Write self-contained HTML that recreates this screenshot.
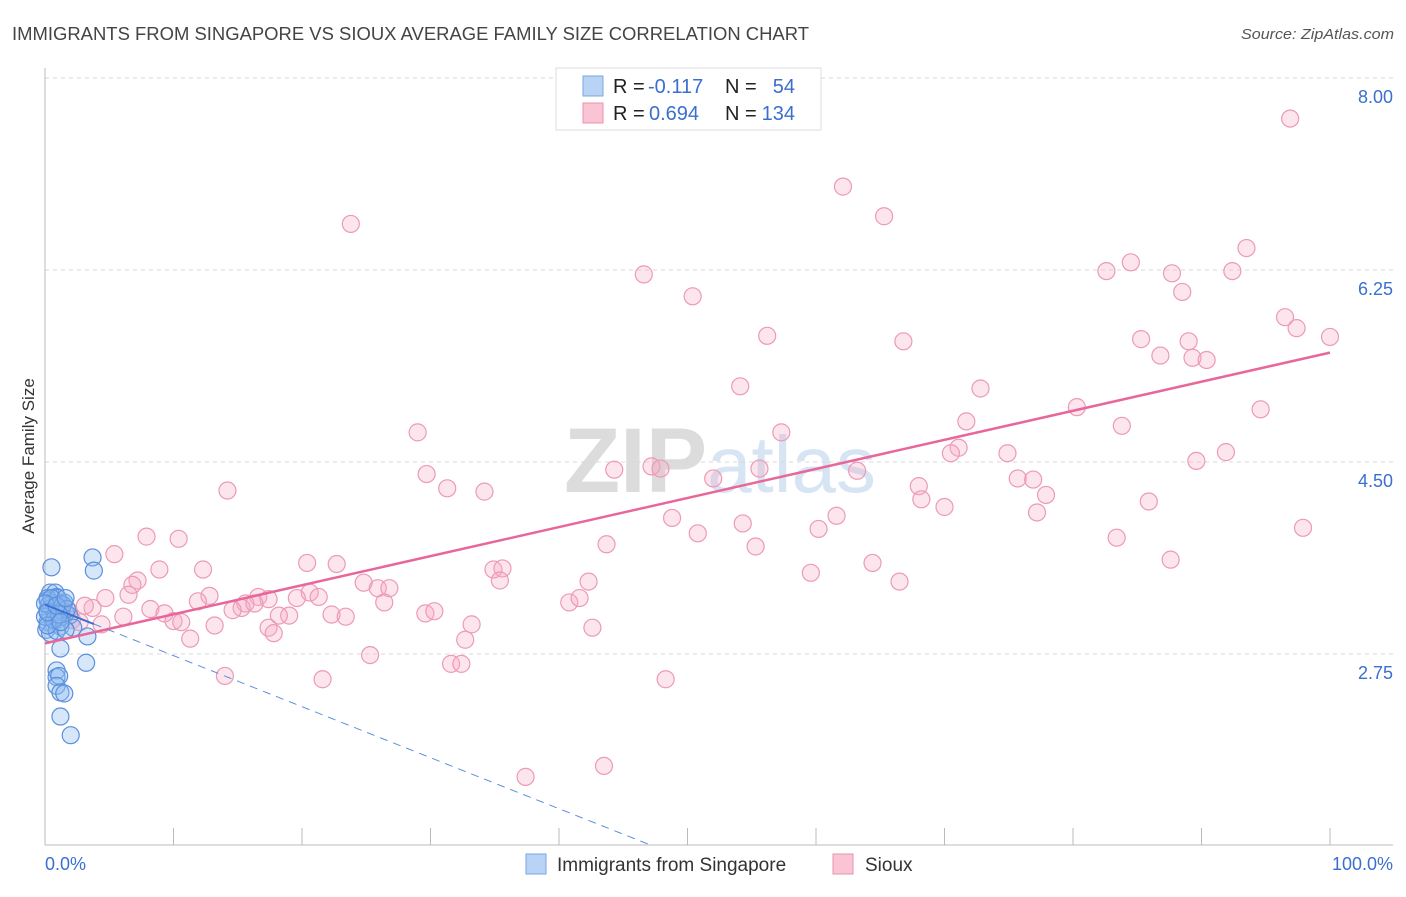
<!DOCTYPE html>
<html><head><meta charset="utf-8"><style>
body{margin:0;background:#fff;font-family:"Liberation Sans",sans-serif;}
svg text{font-family:"Liberation Sans",sans-serif;}
</style></head><body>
<svg id="chart" width="1406" height="892" viewBox="0 0 1406 892">
<text x="12" y="40" font-size="18" fill="#444" textLength="797" lengthAdjust="spacingAndGlyphs">IMMIGRANTS FROM SINGAPORE VS SIOUX AVERAGE FAMILY SIZE CORRELATION CHART</text>
<text x="1394" y="39" font-size="15" fill="#555" font-style="italic" text-anchor="end" textLength="153" lengthAdjust="spacingAndGlyphs">Source: ZipAtlas.com</text>
<text x="720" y="492" font-size="92" fill="#e4e4e4" text-anchor="middle" font-family="Liberation Serif"><tspan font-weight="bold" fill="#dcdcdc">ZIP</tspan><tspan fill="#d6e4f4" font-family="Liberation Sans" font-size="80">atlas</tspan></text>
<g id="grid"></g>
<g id="axes"></g>
<text x="34" y="456" font-size="17" fill="#333" text-anchor="middle" transform="rotate(-90 34 456)">Average Family Size</text>
<g id="marks"></g>
<g>
<rect x="556" y="68" width="265" height="62" fill="#fff" stroke="#ddd"/>
<rect x="583" y="76" width="20" height="20" fill="#b8d3f5" stroke="#7aa6e0"/>
<rect x="583" y="103" width="20" height="20" fill="#fac4d4" stroke="#ea93b0"/>
<text x="613" y="93" font-size="20" fill="#222">R =</text>
<text x="648" y="93" font-size="20" fill="#3a6fd0">-0.117</text>
<text x="725" y="93" font-size="20" fill="#222">N =</text>
<text x="795" y="93" font-size="20" fill="#3a6fd0" text-anchor="end">54</text>
<text x="613" y="120" font-size="20" fill="#222">R =</text>
<text x="649" y="120" font-size="20" fill="#3a6fd0">0.694</text>
<text x="725" y="120" font-size="20" fill="#222">N =</text>
<text x="795" y="120" font-size="20" fill="#3a6fd0" text-anchor="end">134</text>
</g>
<g>
<rect x="526" y="854" width="20" height="20" fill="#b8d3f5" stroke="#7aa6e0"/>
<text x="557" y="871" font-size="19" fill="#333">Immigrants from Singapore</text>
<rect x="833" y="854" width="20" height="20" fill="#fac4d4" stroke="#ea93b0"/>
<text x="865" y="871" font-size="19" fill="#333">Sioux</text>
</g>
</svg>
<script>
const yTicks=[2.75,4.50,6.25,8.00];
const yTickLabels=["2.75","4.50","6.25","8.00"];
const xTickLabels=["0.0%","100.0%"];
const siouxX=[96.9,62.1,65.3,23.8,93.5,84.5,82.6,87.7,92.4,46.6,50.4,88.5,96.5,97.4,100,56.2,66.8,85.3,89.0,86.8,89.3,90.4,54.1,72.8,80.3,94.6,71.7,83.8,29.0,57.3,71.1,70.5,74.9,91.9,89.6,47.2,47.9,44.3,55.6,63.2,29.7,52.0,31.3,14.2,34.2,75.7,76.9,68.0,77.9,68.2,70.0,77.2,85.9,61.6,48.8,54.3,60.2,97.9,50.8,7.9,10.4,83.4,43.7,55.3,5.4,64.4,87.6,20.4,22.7,8.9,12.3,34.9,35.6,59.6,35.4,7.2,6.8,24.8,42.3,66.5,25.9,26.8,6.5,4.7,16.6,12.8,20.6,21.3,19.6,17.4,15.6,15.3,11.9,26.4,40.8,41.6,8.2,3.7,9.3,14.6,16.3,3.1,29.6,30.3,22.3,23.4,19.0,18.2,6.1,2.1,10.0,10.6,4.4,13.2,33.2,17.4,17.8,42.6,11.3,32.7,25.3,31.6,32.4,14.0,21.6,48.3,37.4,43.5,2.7,1.2,1.8];
const siouxY=[7.63,7.01,6.74,6.67,6.45,6.32,6.24,6.22,6.24,6.21,6.01,6.05,5.82,5.72,5.64,5.65,5.60,5.62,5.60,5.47,5.45,5.43,5.19,5.17,5.00,4.98,4.87,4.83,4.77,4.77,4.63,4.58,4.58,4.59,4.51,4.46,4.44,4.43,4.44,4.42,4.39,4.35,4.26,4.24,4.23,4.35,4.34,4.28,4.20,4.16,4.09,4.04,4.14,4.01,3.99,3.94,3.89,3.90,3.85,3.82,3.80,3.81,3.75,3.73,3.66,3.58,3.61,3.58,3.57,3.52,3.52,3.52,3.53,3.49,3.42,3.42,3.38,3.40,3.41,3.41,3.35,3.35,3.29,3.26,3.27,3.28,3.31,3.27,3.26,3.25,3.21,3.17,3.23,3.22,3.22,3.26,3.16,3.17,3.12,3.15,3.21,3.19,3.12,3.14,3.11,3.09,3.10,3.10,3.09,3.06,3.05,3.04,3.02,3.01,3.02,2.99,2.94,2.99,2.89,2.88,2.74,2.66,2.66,2.55,2.52,2.52,1.63,1.73,3.04,3.19,3.15];
const singX=[0.5,3.7,3.8,0.4,0.8,0.9,0.2,0.6,1.2,0.2,1.0,1.5,0.4,0.9,1.3,1.6,0.2,0.6,1.2,0.1,0.4,0.9,1.9,2.2,1.6,3.3,1.2,0.9,0.9,1.1,0.9,1.2,1.5,1.2,2.0,3.2,0.2,0.5,0.8,0.3,1.3,0,1.0,0.5,1.4,0.7,0.2,1.7,1.1,0,0.2,0.9,1.2,1.6];
const singY=[3.54,3.63,3.51,3.31,3.31,3.27,3.24,3.21,3.21,3.15,3.17,3.22,3.11,3.08,3.09,3.12,3.04,3.02,3.00,2.97,2.94,2.96,3.10,2.99,2.97,2.91,2.80,2.60,2.54,2.55,2.46,2.40,2.39,2.18,2.01,2.67,3.26,3.17,3.13,3.20,3.15,3.09,3.26,3.26,3.20,3.06,3.01,3.16,3.11,3.21,3.13,3.19,3.04,3.26];
// reported trend for Singapore series: intercept, slope (per %)
const singTrend=[3.20,-0.0465];

const NS="http://www.w3.org/2000/svg";
const X0=45,X1=1330,YB=654;
function xs(p){return X0+(X1-X0)*p/100;}
function ys(v){return YB-(v-2.75)/1.75*192;}
function mk(tag,attrs,parent){const e=document.createElementNS(NS,tag);for(const k in attrs)e.setAttribute(k,attrs[k]);parent.appendChild(e);return e;}
const grid=document.getElementById('grid'),axes=document.getElementById('axes'),marks=document.getElementById('marks');
yTicks.forEach((t,i)=>{
  const l=mk('line',{x1:45,x2:1393,y1:ys(t),y2:ys(t),stroke:'#d8d8d8','stroke-dasharray':'4,4'},grid);
  
  
  const tx=mk('text',{x:1393,y:ys(t)+25,'font-size':18,fill:'#3a6fd0','text-anchor':'end'},axes);
  tx.textContent=yTickLabels[i];
  
  
});
let a=mk('line',{x1:45,x2:45,y1:68,y2:845,stroke:'#bbb'},axes);


a=mk('line',{x1:45,x2:1393,y1:845,y2:845,stroke:'#bbb'},axes);


for(let i=1;i<=10;i++){
  const t=mk('line',{x1:xs(i*10),x2:xs(i*10),y1:828,y2:845,stroke:'#bbb'},axes);
  
  
}
let xl=mk('text',{x:45,y:870,'font-size':18,fill:'#3a6fd0'},axes);xl.textContent=xTickLabels[0];


xl=mk('text',{x:1393,y:870,'font-size':18,fill:'#3a6fd0','text-anchor':'end'},axes);xl.textContent=xTickLabels[1];



function reg(X,Y){const n=X.length;let sx=0,sy=0,sxx=0,sxy=0;for(let i=0;i<n;i++){sx+=X[i];sy+=Y[i];sxx+=X[i]*X[i];sxy+=X[i]*Y[i];}const b=(n*sxy-sx*sy)/(n*sxx-sx*sx);return{b:b,a:(sy-b*sx)/n};}
siouxX.forEach((x,i)=>{
  const c=mk('circle',{cx:xs(x),cy:ys(siouxY[i]),r:8.5,fill:'rgba(248,170,195,0.3)',stroke:'#ec9ab5','stroke-width':1.2},marks);
  
  
});
singX.forEach((x,i)=>{
  const c=mk('circle',{cx:xs(x),cy:ys(singY[i]),r:8.5,fill:'rgba(140,185,240,0.35)',stroke:'#5a8fdc','stroke-width':1.2},marks);
  
  
});
const rp=reg(siouxX,siouxY);
let tl=mk('line',{x1:xs(0),y1:ys(rp.a),x2:xs(100),y2:ys(rp.a+100*rp.b),stroke:'#e8669a','stroke-width':2.5},marks);


const ba=singTrend[0],bb=singTrend[1];
const xmax=Math.max(...singX);
tl=mk('line',{x1:xs(0),y1:ys(ba),x2:xs(xmax),y2:ys(ba+xmax*bb),stroke:'#3a6fd0','stroke-width':2},marks);


let xend=100;
if(bb<0){const vb=2.75-(845-654)/192*1.75;xend=Math.min(100,(vb-ba)/bb);}
tl=mk('line',{x1:xs(xmax),y1:ys(ba+xmax*bb),x2:xs(xend),y2:ys(ba+xend*bb),stroke:'#5a8fdc','stroke-width':1,'stroke-dasharray':'8,6'},marks);


</script>
</body></html>
